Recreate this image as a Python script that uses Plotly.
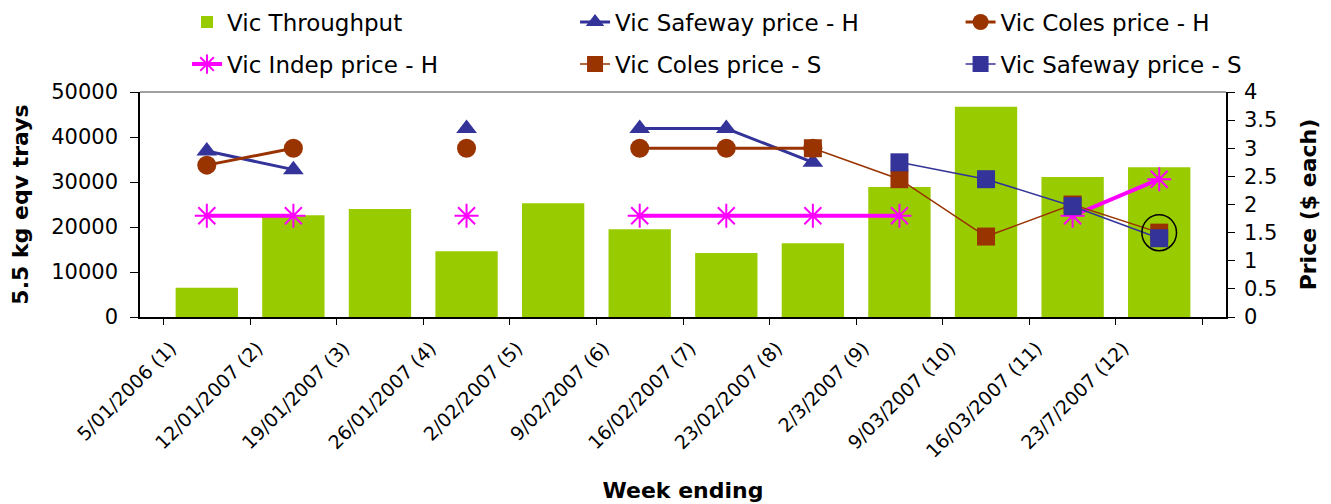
import plotly.graph_objects as go

weeks = ["5/01/2006 (1)", "12/01/2007 (2)", "19/01/2007 (3)", "26/01/2007 (4)",
         "2/02/2007 (5)", "9/02/2007 (6)", "16/02/2007 (7)", "23/02/2007 (8)",
         "2/3/2007 (9)", "9/03/2007 (10)", "16/03/2007 (11)", "23/7/2007 (12)"]
throughput = [6500, 22600, 24000, 14600, 25300, 19500, 14200, 16400, 28900, 46700, 31100, 33300]
safeway_h = [2.95, 2.62, None, 3.35, None, 3.35, 3.35, 2.75, None, None, None, None]
coles_h = [2.7, 3.0, None, 3.0, None, 3.0, 3.0, 3.0, None, None, None, None]
indep_h = [1.8, 1.8, None, 1.8, None, 1.8, 1.8, 1.8, 1.8, None, 1.8, 2.45]
coles_s = [None, None, None, None, None, None, None, 3.0, 2.45, 1.43, 2.0, 1.5]
safeway_s = [None, None, None, None, None, None, None, None, 2.75, 2.45, 1.97, 1.4]

FONT = "DejaVu Sans, Arial, sans-serif"
GREEN = "#99CC00"
NAVY = "#333399"
BROWN = "#993300"
MAGENTA = "#FF00FF"

fig = go.Figure()
fig.add_trace(go.Bar(x=weeks, y=throughput, name="Vic Throughput",
                     marker=dict(color=GREEN, line=dict(width=0)), legend="legend"))
fig.add_trace(go.Scatter(x=weeks, y=safeway_h, name="Vic Safeway price - H", yaxis="y2",
                         mode="lines+markers", line=dict(color=NAVY, width=3),
                         marker=dict(symbol="triangle-up", size=18, color=NAVY), legend="legend2"))
fig.add_trace(go.Scatter(x=weeks, y=coles_h, name="Vic Coles price - H", yaxis="y2",
                         mode="lines+markers", line=dict(color=BROWN, width=3),
                         marker=dict(symbol="circle", size=19, color=BROWN), legend="legend3"))
fig.add_trace(go.Scatter(x=weeks, y=indep_h, name="Vic Indep price - H", yaxis="y2",
                         mode="lines+markers", line=dict(color=MAGENTA, width=4),
                         marker=dict(symbol="asterisk-open", size=20,
                                     line=dict(color=MAGENTA, width=2)), legend="legend4"))
fig.add_trace(go.Scatter(x=weeks, y=coles_s, name="Vic Coles price - S", yaxis="y2",
                         mode="lines+markers", line=dict(color=BROWN, width=1.5),
                         marker=dict(symbol="square", size=18, color=BROWN), legend="legend5"))
fig.add_trace(go.Scatter(x=weeks, y=safeway_s, name="Vic Safeway price - S", yaxis="y2",
                         mode="lines+markers", line=dict(color=NAVY, width=1.5),
                         marker=dict(symbol="square", size=18, color=NAVY), legend="legend6"))

# circle annotation around last point
fig.add_shape(type="circle", xref="x", yref="y2",
              x0=len(weeks) - 1 - 0.2, x1=len(weeks) - 1 + 0.2,
              y0=coles_s[-1] - 0.32, y1=coles_s[-1] + 0.32,
              line=dict(color="black", width=1.5))
# top border of plot area
fig.add_shape(type="line", xref="paper", yref="paper", x0=0, x1=1, y0=1, y1=1,
              line=dict(color="#808080", width=1.5))


def leg(x, y):
    return dict(x=x, y=y, xanchor="left", yanchor="middle", orientation="v",
                font=dict(family=FONT, size=23, color="black"),
                bgcolor="rgba(0,0,0,0)", itemwidth=30)


cols = [0.0433, 0.4006, 0.7556]
rows = [1.311, 1.124]

fig.update_layout(
    width=1331, height=504,
    margin=dict(l=132, r=113, t=84, b=195, autoexpand=False),
    plot_bgcolor="white", paper_bgcolor="white",
    font=dict(family=FONT, size=20, color="black"),
    bargap=0.28,
    showlegend=True,
    legend=leg(cols[0], rows[0]),
    legend2=leg(cols[1], rows[0]),
    legend3=leg(cols[2], rows[0]),
    legend4=leg(cols[0], rows[1]),
    legend5=leg(cols[1], rows[1]),
    legend6=leg(cols[2], rows[1]),
    xaxis=dict(showline=True, linecolor="black", linewidth=1.5, ticks="outside",
               tickson="boundaries", ticklen=6, tickcolor="black", tickangle=-45,
               tickfont=dict(size=19), showgrid=False, ticklabelstandoff=11,
               ticklabelshift=-36,
               title=dict(text="<b>Week ending</b>", font=dict(size=22), standoff=22)),
    yaxis=dict(range=[0, 50000], dtick=10000, tickformat="d", showline=True,
               linecolor="black", linewidth=1.5, ticks="outside", ticklen=8,
               tickcolor="black", showgrid=False, zeroline=False, ticklabelstandoff=8,
               tickfont=dict(size=21),
               title=dict(text="<b>5.5 kg eqv trays</b>", font=dict(size=22), standoff=17)),
    yaxis2=dict(range=[0, 4], dtick=0.5, overlaying="y", side="right", showline=True,
                linecolor="black", linewidth=1.5, ticks="outside", ticklen=7,
                tickcolor="black", showgrid=False, zeroline=False, ticklabelstandoff=5,
                tickfont=dict(size=21),
                title=dict(text="<b>Price ($ each)</b>", font=dict(size=22), standoff=24)),
)

fig.write_html("out.html")
